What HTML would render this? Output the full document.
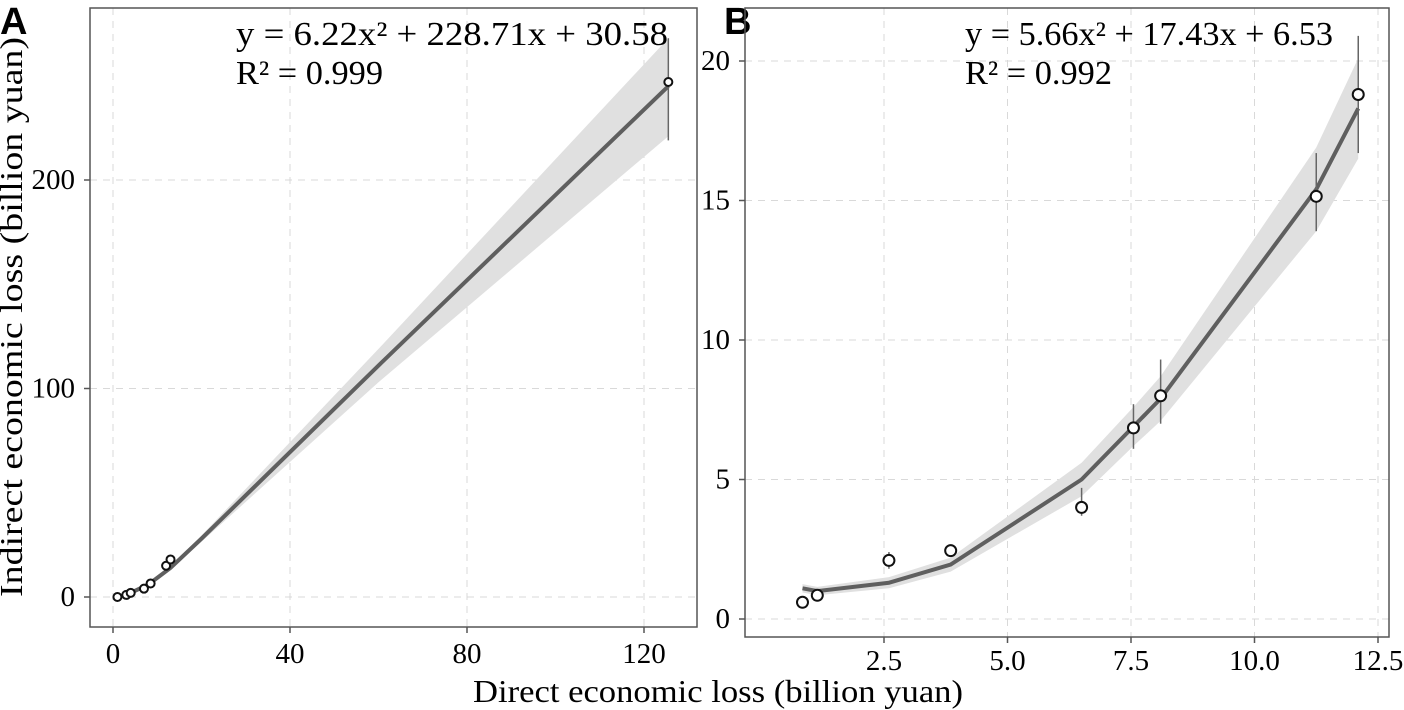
<!DOCTYPE html>
<html><head><meta charset="utf-8"><style>
html,body{margin:0;padding:0;background:#fff;}
svg{display:block;font-family:"Liberation Serif",serif;}
</style></head><body>
<svg id="chart" width="1404" height="710" xmlns="http://www.w3.org/2000/svg">
<text x="0" y="34" font-family="Liberation Sans,sans-serif" font-weight="bold" font-size="38">A</text>
<text x="724" y="34" font-family="Liberation Sans,sans-serif" font-weight="bold" font-size="38">B</text>
<text x="473" y="702" font-size="32" textLength="490" lengthAdjust="spacingAndGlyphs">Direct economic loss (billion yuan)</text>
<text transform="translate(22,317) rotate(-90)" text-anchor="middle" font-size="32" textLength="560" lengthAdjust="spacingAndGlyphs">Indirect economic loss (billion yuan)</text>
<g id="pa"></g><g id="pb"></g>
</svg>
<script>
// Panel A data
const aX = [1, 3, 4, 7, 8.5, 12, 13, 125.5];
const aY = [0, 1, 2, 4, 6.5, 15, 18, 247];
const aErrLo = [0, 1, 2, 4, 6.5, 15, 18, 219];
const aErrHi = [0, 1, 2, 4, 6.5, 15, 18, 268];
const aFitX = [3, 8, 13, 20, 60, 125.5];
const aFitY = [1, 6, 14, 28, 111, 245];
const aFitLo = [0.5, 5, 13, 26.5, 103, 221];
const aFitHi = [1.5, 7, 15, 29.5, 119, 268];
const aXTicks = [0, 40, 80, 120];
const aYTicks = [0, 100, 200];
// Panel B data
const bX = [0.85, 1.15, 2.6, 3.85, 6.5, 7.55, 8.1, 11.25, 12.1];
const bY = [0.6, 0.85, 2.1, 2.45, 4.0, 6.85, 8.0, 15.15, 18.8];
const bErrLo = [0.6, 0.85, 1.8, 2.45, 3.7, 6.1, 7.0, 13.9, 16.7];
const bErrHi = [0.6, 0.85, 2.4, 2.45, 4.7, 7.7, 9.3, 16.7, 20.9];
const bFitY = [1.1, 1.0, 1.3, 1.95, 5.0, 6.9, 7.9, 15.4, 18.3];
const bFitLo = [0.95, 0.85, 1.1, 1.7, 4.4, 6.2, 7.1, 13.9, 16.5];
const bFitHi = [1.25, 1.15, 1.5, 2.2, 5.6, 7.6, 8.7, 16.9, 20.1];
const bXTicks = [2.5, 5.0, 7.5, 10.0, 12.5];
const bYTicks = [0, 5, 10, 15, 20];

const NS = "http://www.w3.org/2000/svg";
function mk(parent, tag, attrs){const e=document.createElementNS(NS,tag);for(const k in attrs)e.setAttribute(k,attrs[k]);parent.appendChild(e);return e;}

function panel(g, box, xs, ys, xTicks, yTicks, xFmt, fitX, fitY, fitLo, fitHi, px, py, lo, hi, eq, r2, eqX, eqLen, r2Len, r, xLabOff){
  const [L,T,R,B]=box;
  for(const t of xTicks){const x=xs(t);
    const l=mk(g,'line',{x1:x,x2:x,y1:T,y2:B,stroke:'#d9d9d9','stroke-dasharray':'7,6','stroke-width':1});
    
    
    const tk=mk(g,'line',{x1:x,x2:x,y1:B,y2:B+6,stroke:'#555','stroke-width':1.5});
    
    
    const tx=mk(g,'text',{x:x,y:B+xLabOff,'text-anchor':'middle','font-size':29});
    tx.textContent=xFmt(t);
    
    
  }
  for(const t of yTicks){const y=ys(t);
    const l=mk(g,'line',{x1:L,x2:R,y1:y,y2:y,stroke:'#d9d9d9','stroke-dasharray':'7,6','stroke-width':1});
    
    
    const tk=mk(g,'line',{x1:L-6,x2:L,y1:y,y2:y,stroke:'#555','stroke-width':1.5});
    
    
    const tx=mk(g,'text',{x:L-15,y:y+9,'text-anchor':'end','font-size':29});
    tx.textContent=t;
    
    
  }
  let d='M'+fitX.map((v,i)=>xs(v)+','+ys(fitHi[i])).join('L');
  for(let i=fitX.length-1;i>=0;i--) d+='L'+xs(fitX[i])+','+ys(fitLo[i]);
  const band=mk(g,'path',{d:d+'Z',fill:'#e0e0e0'});
  
  
  const line=mk(g,'polyline',{points:fitX.map((v,i)=>xs(v)+','+ys(fitY[i])).join(' '),fill:'none',stroke:'#5f5f5f','stroke-width':4});
  
  
  for(let i=0;i<px.length;i++){
    if(hi[i]!==lo[i]){const e=mk(g,'line',{x1:xs(px[i]),x2:xs(px[i]),y1:ys(lo[i]),y2:ys(hi[i]),stroke:'#666','stroke-width':1.5});
      
      }
    const c=mk(g,'circle',{cx:xs(px[i]),cy:ys(py[i]),r:r,fill:'#fff',stroke:'#111','stroke-width':2});
    
    
  }
  const frame=mk(g,'rect',{x:L,y:T,width:R-L,height:B-T,fill:'none',stroke:'#555','stroke-width':1.5});
  
  
  const e1=mk(g,'text',{x:eqX,y:T+37,'font-size':34,textLength:eqLen,lengthAdjust:'spacingAndGlyphs'});
  e1.textContent=eq;
  
  
  const e2=mk(g,'text',{x:eqX,y:T+76,'font-size':34,textLength:r2Len,lengthAdjust:'spacingAndGlyphs'});
  e2.textContent=r2;
  
  
}
const gA=document.getElementById('pa');
panel(gA,[90,8,697,627],v=>113+v*4.425,v=>597-v*2.085,aXTicks,aYTicks,t=>String(t),
  aFitX,aFitY,aFitLo,aFitHi,aX,aY,aErrLo,aErrHi,'y = 6.22x² + 228.71x + 30.58','R² = 0.999',236,432,147,4,36);
const gB=document.getElementById('pb');
panel(gB,[745,8,1389,637],v=>760.5+v*49.4,v=>619-v*27.9,bXTicks,bYTicks,t=>t.toFixed(1),
  bX,bFitY,bFitLo,bFitHi,bX,bY,bErrLo,bErrHi,'y = 5.66x² + 17.43x + 6.53','R² = 0.992',965,368,147,5.5,33);
</script>
</body></html>
